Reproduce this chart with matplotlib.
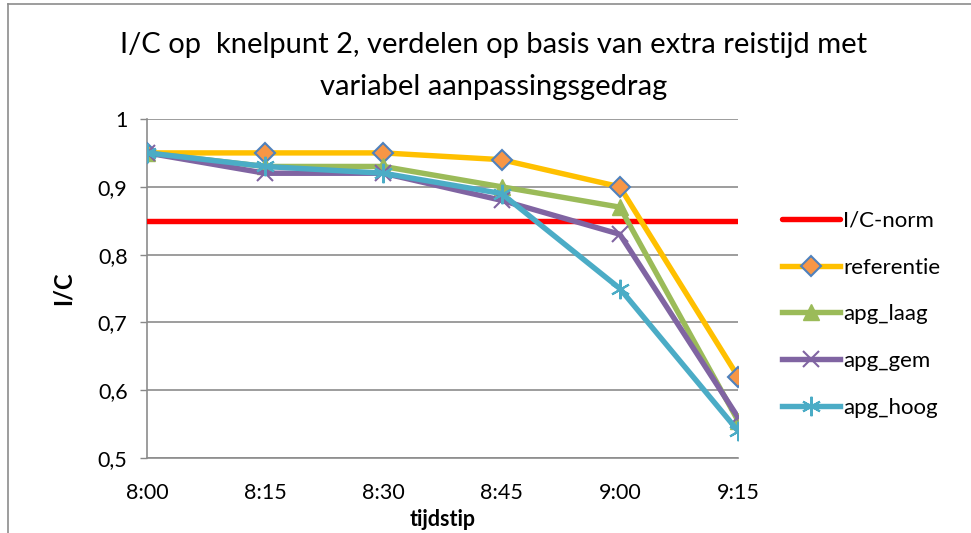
import matplotlib
matplotlib.use("Agg")
import matplotlib.pyplot as plt
from matplotlib.lines import Line2D

plt.rcParams['font.family'] = ['Lato', 'DejaVu Sans']

# Data
times = ["8:00", "8:15", "8:30", "8:45", "9:00", "9:15"]
ic_norm = [0.85, 0.85, 0.85, 0.85, 0.85, 0.85]
referentie = [0.95, 0.95, 0.95, 0.94, 0.90, 0.62]
apg_laag = [0.95, 0.93, 0.93, 0.90, 0.87, 0.555]
apg_gem = [0.95, 0.92, 0.92, 0.88, 0.83, 0.56]
apg_hoog = [0.95, 0.93, 0.92, 0.89, 0.75, 0.54]
y_ticks = [0.5, 0.6, 0.7, 0.8, 0.9, 1.0]
y_tick_labels = ["0,5", "0,6", "0,7", "0,8", "0,9", "1"]

fig = plt.figure(figsize=(9.71, 5.33), dpi=100)
ax = fig.add_axes([147/971, 1 - 458/533, (738-147)/971, (458-119)/533])

x = list(range(len(times)))
lw = 3.9

ax.plot(x, ic_norm, color="#FF0000", lw=lw, label="I/C-norm", solid_capstyle="round", zorder=3)
ax.plot(x, referentie, color="#FFC000", lw=lw, marker="D", ms=10,
        mfc="#F79646", mec="#4F81BD", mew=1.5, label="referentie", zorder=4)
ax.plot(x, apg_laag, color="#9BBB59", lw=lw, marker="^", ms=12,
        mfc="#9BBB59", mec="#9BBB59", label="apg_laag", zorder=5)
ax.plot(x, apg_gem, color="#8064A2", lw=lw, marker="x", ms=12,
        mec="#8064A2", mew=1.5, label="apg_gem", zorder=6)
ax.plot(x, apg_hoog, color="#4BACC6", lw=lw, marker=(6, 2, 0), ms=14,
        mec="#4BACC6", mew=1.5, label="apg_hoog", zorder=7)

ax.set_xlim(0, 5)
ax.set_ylim(0.5, 1.0)
ax.set_xticks(x)
ax.set_xticklabels(times)
ax.set_yticks(y_ticks)
ax.set_yticklabels(y_tick_labels)
ax.tick_params(axis="both", labelsize=15.5, colors="#888888", labelcolor="black")
ax.tick_params(axis="x", length=0, pad=18)
ax.tick_params(axis="y", length=5, width=1, pad=9)

ax.yaxis.grid(True, color="#8C8C8C", lw=1.2)
ax.set_axisbelow(True)
for s in ["top", "right"]:
    ax.spines[s].set_visible(False)
for s in ["left", "bottom"]:
    ax.spines[s].set_color("#8C8C8C")
    ax.spines[s].set_linewidth(1.2)

ax.set_ylabel("I/C", fontsize=17, fontweight="bold", labelpad=17)
ax.set_xlabel("tijdstip", fontsize=15.5, fontweight="bold", labelpad=4)

fig.text(0.508, 1 - 45/533, "I/C op  knelpunt 2, verdelen op basis van extra reistijd met",
         ha="center", va="center", fontsize=21)
fig.text(0.508, 1 - 87/533, "variabel aanpassingsgedrag",
         ha="center", va="center", fontsize=21)

leg = fig.legend(loc="upper left", bbox_to_anchor=(773/971, 1 - 202/533),
                 frameon=False, fontsize=16, handlelength=2.6, handletextpad=0.15,
                 labelspacing=1.2, borderaxespad=0)

# Outer border (top and left edges)
fig.add_artist(Line2D([8/971, 1], [1 - 4/533, 1 - 4/533], color="#8C8C8C", lw=1.2))
fig.add_artist(Line2D([8/971, 8/971], [0, 1 - 4/533], color="#8C8C8C", lw=1.2))

fig.savefig("out.png", dpi=100)
